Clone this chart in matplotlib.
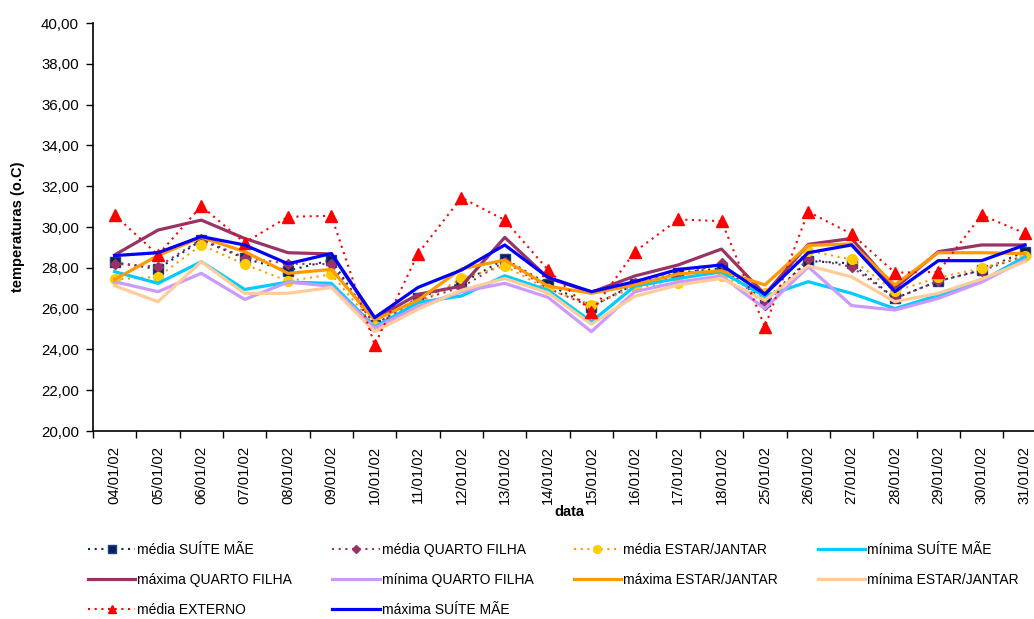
import numpy as np
import matplotlib
matplotlib.use('Agg')
import matplotlib.pyplot as plt
from matplotlib.ticker import FuncFormatter

plt.rcParams['font.family'] = ['Liberation Sans', 'DejaVu Sans']

datas = ['04/01/02', '05/01/02', '06/01/02', '07/01/02', '08/01/02', '09/01/02',
         '10/01/02', '11/01/02', '12/01/02', '13/01/02', '14/01/02', '15/01/02',
         '16/01/02', '17/01/02', '18/01/02', '25/01/02', '26/01/02', '27/01/02',
         '28/01/02', '29/01/02', '30/01/02', '31/01/02']

media_suite = [28.27, 27.94, 29.36, 28.46, 27.86, 28.38, 25.20, 26.54, 27.24, 28.43, 27.20,
               26.10, 27.20, 27.76, 27.97, 26.39, 28.33, 28.22, 26.50, 27.35, 27.89, 28.79]
media_quarto = [28.20, 28.05, 29.40, 28.50, 28.20, 28.18, 25.20, 26.40, 27.05, 28.30, 27.00,
                26.08, 27.24, 27.60, 28.22, 26.18, 28.45, 28.05, 26.50, 27.35, 27.86, 28.60]
media_estar = [27.43, 27.56, 29.12, 28.17, 27.35, 27.68, 25.15, 26.23, 27.48, 28.09, 26.94,
               26.18, 27.04, 27.28, 27.60, 26.75, 28.84, 28.41, 26.85, 27.53, 27.97, 28.60]
minima_suite = [27.81, 27.24, 28.30, 26.94, 27.30, 27.24, 25.10, 26.30, 26.62, 27.61, 26.90,
                25.36, 27.10, 27.48, 27.80, 26.60, 27.32, 26.75, 26.00, 26.65, 27.35, 28.54]
maxima_quarto = [28.63, 29.85, 30.34, 29.44, 28.74, 28.68, 25.50, 26.70, 27.10, 29.49, 27.50,
                 26.80, 27.60, 28.14, 28.92, 26.70, 29.15, 29.44, 27.00, 28.79, 29.12, 29.12]
minima_quarto = [27.32, 26.83, 27.73, 26.45, 27.30, 27.10, 25.05, 26.10, 26.83, 27.24, 26.55,
                 24.87, 26.83, 27.30, 27.60, 26.00, 28.05, 26.15, 25.93, 26.50, 27.30, 28.40]
maxima_estar = [27.43, 28.60, 29.50, 28.79, 27.73, 27.92, 25.44, 26.42, 27.95, 28.38, 27.10,
                26.75, 27.16, 27.70, 27.86, 27.16, 29.10, 29.17, 27.16, 28.74, 28.74, 28.70]
minima_estar = [27.12, 26.34, 28.30, 26.75, 26.75, 27.04, 24.87, 25.97, 26.90, 27.48, 26.78,
                25.24, 26.60, 27.16, 27.48, 26.40, 28.10, 27.56, 26.34, 26.75, 27.45, 28.30]
media_externo = [30.59, 28.63, 31.03, 29.23, 30.50, 30.55, 24.22, 28.70, 31.44, 30.34, 27.89,
                 25.85, 28.79, 30.37, 30.29, 25.11, 30.75, 29.66, 27.76, 27.80, 30.59, 29.69]
maxima_suite = [28.60, 28.74, 29.53, 29.12, 28.20, 28.70, 25.56, 27.04, 27.89, 29.12, 27.53,
                26.83, 27.32, 27.92, 28.14, 26.70, 28.74, 29.12, 26.83, 28.35, 28.35, 29.12]

x = np.arange(len(datas))
dot = (0, (1, 2.2))

fig = plt.figure(figsize=(10.34, 6.19), dpi=100)
ax = fig.add_axes([0.0899, 0.3037, 0.9223, 0.6591])

l1, = ax.plot(x, media_suite, color='#003366', lw=1.5, ls=dot, marker='s', ms=6.5,
              mfc='#002060', mec='#1F3F7F', label='média SUÍTE MÃE')
l2, = ax.plot(x, media_quarto, color='#993366', lw=1.5, ls=dot, marker='D', ms=5.5,
              mfc='#993366', mec='#993366', label='média QUARTO FILHA')
l3, = ax.plot(x, media_estar, color='#FF9900', lw=1.5, ls=dot, marker='o', ms=7,
              mfc='#FFCC00', mec='#FFCC00', label='média ESTAR/JANTAR')
l4, = ax.plot(x, minima_suite, color='#00CCFF', lw=2.3, label='mínima SUÍTE MÃE')
l5, = ax.plot(x, maxima_quarto, color='#993366', lw=2.3, label='máxima QUARTO FILHA')
l6, = ax.plot(x, minima_quarto, color='#CC99FF', lw=2.3, label='mínima QUARTO FILHA')
l7, = ax.plot(x, maxima_estar, color='#FF9900', lw=2.3, label='máxima ESTAR/JANTAR')
l8, = ax.plot(x, minima_estar, color='#FFCC99', lw=2.3, label='mínima ESTAR/JANTAR')
l9, = ax.plot(x, media_externo, color='#FF0000', lw=1.5, ls=dot, marker='^', ms=8,
              mfc='#FF0000', mec='#FF0000', label='média EXTERNO')
l10, = ax.plot(x, maxima_suite, color='#0000FF', lw=2.3, label='máxima SUÍTE MÃE')

ax.set_xlim(-0.5, len(datas) - 0.5)
ax.set_ylim(20, 40)
ax.set_yticks(np.arange(20, 41, 2))
ax.yaxis.set_major_formatter(FuncFormatter(lambda v, p: f'{v:.2f}'.replace('.', ',')))
ax.set_xticks(x)
ax.set_xticklabels(datas, rotation=90)
ax.set_xticks(np.arange(-0.5, len(datas)), minor=True)
ax.tick_params(axis='x', which='major', length=0, pad=11, labelsize=10.6)
ax.tick_params(axis='x', which='minor', length=5, width=1, direction='out')
ax.tick_params(axis='y', length=5, width=1, direction='out', labelsize=10.8, pad=5)

for s in ['top', 'right']:
    ax.spines[s].set_visible(False)
for s in ['left', 'bottom']:
    ax.spines[s].set_linewidth(1.2)

ax.set_ylabel('temperaturas (o.C)', fontweight='bold', fontsize=10.5)
ax.yaxis.set_label_coords(-0.0713, 0.5)
ax.set_xlabel('data', fontweight='bold', fontsize=10.5)
ax.xaxis.set_label_coords(0.5, -0.182)

handles = [l1, l5, l9, l2, l6, l10, l3, l7, l4, l8]
fig.legend(handles, [h.get_label() for h in handles], ncol=4, loc='upper left',
           bbox_to_anchor=(0.085, 0.123), frameon=False, fontsize=10, markerscale=0.8,
           handlelength=3.4, handletextpad=0.15, columnspacing=2.9,
           labelspacing=1.15, borderpad=0, borderaxespad=0)

fig.savefig('out.png', dpi=100)
